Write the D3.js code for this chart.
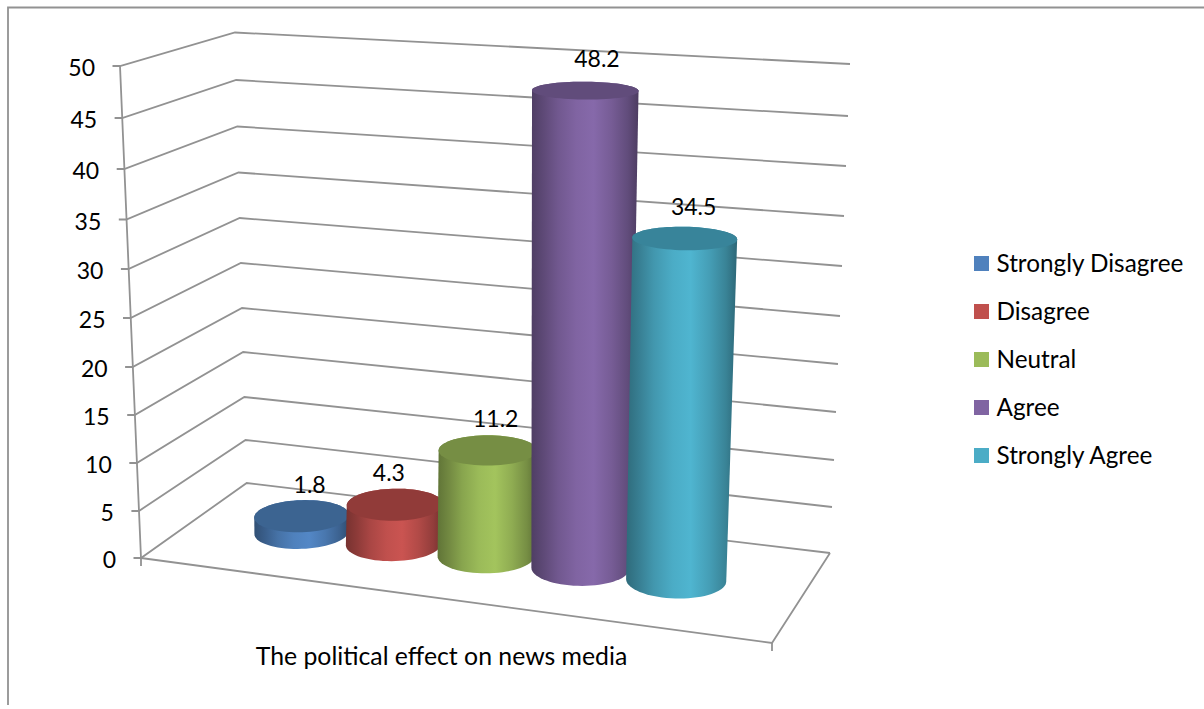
<!DOCTYPE html>
<html>
<head>
<meta charset="utf-8">
<title>The political effect on news media</title>
<script src="https://cdn.jsdelivr.net/npm/d3@7"></script>
<style>
  body { margin: 0; background: #fff; }
  text { font-family: Lato, "Open Sans", sans-serif; fill: #000; }
</style>
</head>
<body>
<svg id="chart"></svg>
<script>
  const categories = ["Strongly Disagree", "Disagree", "Neutral", "Agree", "Strongly Agree"],
        values = [1.8, 4.3, 11.2, 48.2, 34.5],
        colors = ["#4f81bd", "#c0504d", "#9bbb59", "#8064a2", "#4bacc6"],
        capColors = ["#3c6491", "#913b39", "#768e44", "#614c7b", "#38849a"],
        yTicks = [0, 5, 10, 15, 20, 25, 30, 35, 40, 45, 50],
        axisTitle = "The political effect on news media";

  const width = 1204,
        height = 709,
        numberSize = 23,
        titleSize = 24.8,
        legendSize = 24.3,
        gridColor = "#929292",
        gridWidth = 1.8;

  const svg = d3.select("#chart")
                .attr("width", width)
                .attr("height", height);

  // Height scales for the upright edges of the 3D box, which are foreshortened
  let frontY = d3.scaleLinear().domain(yTicks)
                 .range([558, 511, 463, 415, 367, 318, 269, 219.5, 169, 118, 66]);
  let backY = d3.scaleLinear().domain(yTicks)
                .range([483, 440, 397, 352, 308, 263, 218, 172.5, 126.5, 80, 32.5]);
  let rightY = d3.scaleLinear().domain(yTicks)
                 .range([553, 507, 460, 412, 364, 316, 266, 216, 166, 116, 64]);
  let cornerY = d3.scaleLinear().domain([0, 25, 50]).range([643, 383, 110]);

  let frontX = d3.scaleLinear().domain([0, 50]).range([141, 120]);
  let backX = d3.scaleLinear().domain([0, 50]).range([246.7, 235]);
  let rightX = d3.scaleLinear().domain([0, 50]).range([830, 850]);
  let cornerX = d3.scaleLinear().domain([0, 50]).range([772, 796]);

  // Position of each cylinder along the floor, as a fraction of its width
  let floorU = d3.scaleOrdinal().domain(categories).range([0.188, 0.347, 0.502, 0.656, 0.807]);

  // Extra drift of a cylinder's axis per full height of the box
  const axisLean = [0, 0, 0, 0.013, 0];

  const floorD = 0.5,
        radiusU = 0.075,
        radiusD = 0.2;

  // Maps (u, d) in the unit square onto the horizontal plane at value v
  function planeAt (v) {
    const q = [[frontX(v), frontY(v)], [cornerX(v), cornerY(v)],
               [rightX(v), rightY(v)], [backX(v), backY(v)]];
    const dx1 = q[1][0] - q[2][0], dx2 = q[3][0] - q[2][0],
          dy1 = q[1][1] - q[2][1], dy2 = q[3][1] - q[2][1],
          sx = q[0][0] - q[1][0] + q[2][0] - q[3][0],
          sy = q[0][1] - q[1][1] + q[2][1] - q[3][1],
          den = dx1 * dy2 - dx2 * dy1,
          g = (sx * dy2 - dx2 * sy) / den,
          h = (dx1 * sy - sx * dy1) / den;
    const a = q[1][0] - q[0][0] + g * q[1][0],
          b = q[3][0] - q[0][0] + h * q[3][0],
          d = q[1][1] - q[0][1] + g * q[1][1],
          e = q[3][1] - q[0][1] + h * q[3][1];
    return (u, t) => {
      const w = g * u + h * t + 1;
      return [(a * u + b * t + q[0][0]) / w, (d * u + e * t + q[0][1]) / w];
    };
  }

  // Floor coordinate of cylinder i's axis at height v
  function axisU (i, v) {
    return floorU(categories[i]) + axisLean[i] * v / 50;
  }

  function ring (v, i) {
    const plane = planeAt(v),
          u = axisU(i, v);
    return d3.range(0, 72).map((k) => {
      const angle = k / 72 * 2 * Math.PI;
      return plane(u + radiusU * Math.cos(angle), floorD + radiusD * Math.sin(angle));
    });
  }

  // Outer frame, open on the right and at the bottom
  svg.append("path")
     .attr("d", "M8,705V7.5H1204")
     .attr("fill", "none")
     .attr("stroke", gridColor)
     .attr("stroke-width", gridWidth);

  // Walls: one broken line per tick
  let lineGen = d3.line();
  svg.append("g").selectAll("path")
     .data(yTicks)
     .enter()
     .append("path")
     .attr("d", (d) => lineGen([[frontX(d) - 7.5, frontY(d)], [frontX(d), frontY(d)],
                                [backX(d), backY(d)], [rightX(d), rightY(d)]]))
     .attr("fill", "none")
     .attr("stroke", gridColor)
     .attr("stroke-width", gridWidth);

  // Upright axis and the floor outline with its two end ticks
  svg.append("path")
     .attr("d", lineGen([[frontX(50), frontY(50)], [frontX(0), frontY(0)], [frontX(0), frontY(0) + 8]]))
     .attr("fill", "none")
     .attr("stroke", gridColor)
     .attr("stroke-width", gridWidth);

  svg.append("path")
     .attr("d", lineGen([[frontX(0), frontY(0)], [cornerX(0), cornerY(0)],
                         [rightX(0), rightY(0)]]))
     .attr("fill", "none")
     .attr("stroke", gridColor)
     .attr("stroke-width", gridWidth);

  svg.append("path")
     .attr("d", lineGen([[cornerX(0), cornerY(0)], [cornerX(0), cornerY(0) + 8]]))
     .attr("fill", "none")
     .attr("stroke", gridColor)
     .attr("stroke-width", gridWidth);

  // Tick labels
  svg.append("g").selectAll("text")
     .data(yTicks)
     .enter()
     .append("text")
     .attr("x", (d) => frontX(d) - 25)
     .attr("y", (d) => frontY(d) + 10)
     .attr("text-anchor", "end")
     .attr("font-size", numberSize)
     .text((d) => d);

  // Side shading runs dark at the edges, brightest a little past the middle
  let defs = svg.append("defs");
  const shadeStops = [[0, 0.62], [0.12, 0.74], [0.25, 0.88], [0.42, 1.0], [0.58, 1.05],
                      [0.75, 0.92], [0.9, 0.76], [1, 0.6]];

  categories.forEach((c, i) => {
    let grad = defs.append("linearGradient").attr("id", "side" + i);
    shadeStops.forEach((s) => {
      let base = d3.rgb(colors[i]);
      grad.append("stop")
          .attr("offset", s[0])
          .attr("stop-color", d3.rgb(base.r * s[1], base.g * s[1], base.b * s[1]).clamp().formatHex());
    });
  });

  // Cylinders, in drawing order so each overlaps the previous
  let closedLine = d3.line().curve(d3.curveLinearClosed);
  let bars = svg.append("g").selectAll("g")
                .data(categories)
                .enter()
                .append("g");

  bars.append("path")
      .attr("d", (c, i) => closedLine(d3.polygonHull(ring(0, i).concat(ring(values[i], i)))))
      .attr("fill", (c, i) => "url(#side" + i + ")");

  bars.append("path")
      .attr("d", (c, i) => closedLine(ring(values[i], i)))
      .attr("fill", (c, i) => capColors[i]);

  // Value labels sit just above the cap of each cylinder
  const labelShift = [8, -6, 8, 12, 9];
  svg.append("g").selectAll("text")
     .data(categories)
     .enter()
     .append("text")
     .attr("x", (c, i) => planeAt(values[i])(axisU(i, values[i]), floorD)[0] + labelShift[i])
     .attr("y", (c, i) => planeAt(values[i])(axisU(i, values[i]), floorD)[1] - 23)
     .attr("text-anchor", "middle")
     .attr("font-size", numberSize)
     .text((c, i) => values[i]);

  // Category axis title
  svg.append("text")
     .attr("x", 441.5)
     .attr("y", 665)
     .attr("text-anchor", "middle")
     .attr("font-size", titleSize)
     .text(axisTitle);

  // Legend
  let legend = svg.append("g").selectAll("g")
                  .data(categories)
                  .enter()
                  .append("g")
                  .attr("transform", (c, i) => "translate(974," + (263.5 + i * 48) + ")");

  legend.append("rect")
        .attr("y", -7.5)
        .attr("width", 15)
        .attr("height", 15)
        .attr("fill", (c, i) => colors[i]);

  legend.append("text")
        .attr("x", 22.5)
        .attr("y", 8.5)
        .attr("font-size", legendSize)
        .text((c) => c);
</script>
</body>
</html>
